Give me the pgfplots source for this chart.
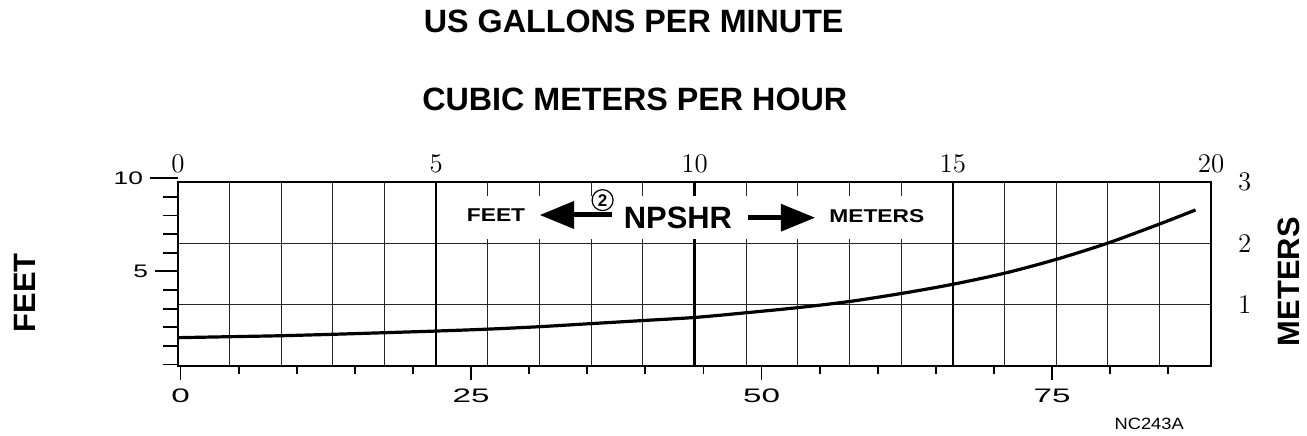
\documentclass[border=0pt]{standalone}
\usepackage{fontspec}
\newfontfamily\arial{Liberation Sans}
\newfontfamily\widefont[FakeStretch=1.7]{Liberation Sans}
\newfontfamily\leftfont[FakeStretch=1.45]{Liberation Sans}
\newfontfamily\labelfont[FakeStretch=1.23]{Liberation Sans}
\newfontfamily\codefont[FakeStretch=1.12]{Liberation Sans}
\usepackage{pgfplots}
\pgfplotsset{compat=1.18}

\newcommand\thinlabel{\rmfamily\fontsize{13.5}{13.5}\selectfont}

% common frame: 1 px of the reference = 0.5bp
\pgfplotsset{
  chart/.style={at={(89bp,35bp)}, anchor=south west, scale only axis,
    width=516.5bp, height=92.15bp, xmin=0, xmax=20, ymin=0, ymax=3},
}
\tikzset{bigbold/.style={font=\arial\bfseries\fontsize{16.2}{16.2}\selectfont}}

\begin{document}
\begin{tikzpicture}
\useasboundingbox (0,0) rectangle (653.5bp,218bp);

% thin grid, every 1 m3/h and every metre
\begin{axis}[chart, xtick={1,...,19}, ytick={1,2}, grid=major,
  major grid style={black!85, line width=0.5bp},
  xticklabels={}, yticklabels={}, major tick length=0pt,
  axis line style={draw=none}]
\end{axis}

% heavy grid at 5, 10, 15 m3/h, and the white strip for the label
\begin{axis}[chart, xtick={5,10,15}, ytick=\empty, xmajorgrids,
  major grid style={black, line width=1.2bp},
  xticklabels={}, major tick length=0pt, axis line style={draw=none}]
\fill[white] (axis cs:5.12,2.07) rectangle (axis cs:14.85,2.76);
\end{axis}

% main axis: cubic metres per hour (top) vs metres (right)
\begin{axis}[chart,
  xtick={0,5,10,15,20}, xticklabel pos=upper,
  ytick={1,2,3}, yticklabel pos=right,
  major tick length=0pt, axis line style={line width=1bp},
  /pgf/number format/assume math mode=true,
  xticklabel style={font=\thinlabel, yshift=1bp},
  yticklabel style={font=\thinlabel, xshift=10bp}]
\addplot[black, line width=1.6bp, smooth] coordinates {
  (0,0.461) (1,0.477) (2,0.493) (3,0.516) (4,0.542) (5,0.569)
  (6,0.600) (7,0.640) (8,0.690) (9,0.740) (10,0.790) (11,0.867)
  (12,0.950) (13,1.050) (14,1.180) (15,1.330) (16,1.510) (17,1.735)
  (18,2.000) (19,2.310) (19.7,2.540)
};
% NPSHR legend
\node[font=\labelfont\bfseries\fontsize{9.3}{9.3}\selectfont] at (axis cs:6.157,2.458) {FEET};
\node[font=\arial\bfseries\fontsize{15.5}{15.5}\selectfont] at (axis cs:9.68,2.417) {NPSHR};
\node[font=\labelfont\bfseries\fontsize{9.3}{9.3}\selectfont] at (axis cs:13.53,2.434) {METERS};
\fill (axis cs:7.009,2.458) -- ([yshift=7bp]axis cs:7.667,2.458)
  -- ([yshift=-7bp]axis cs:7.667,2.458) -- cycle;
\draw[line width=2.5bp] (axis cs:7.6,2.458) -- (axis cs:8.397,2.458);
\draw[line width=2.5bp] (axis cs:11.04,2.414) -- (axis cs:11.75,2.414);
\fill (axis cs:12.33,2.414) -- ([yshift=7bp]axis cs:11.67,2.414)
  -- ([yshift=-7bp]axis cs:11.67,2.414) -- cycle;
\node[circle, draw, line width=0.6bp, inner sep=0pt, minimum size=10.5bp,
  font=\arial\bfseries\fontsize{8.5}{8.5}\selectfont] at (axis cs:8.22,2.70) {2};
\end{axis}

% feet scale on the left
\begin{axis}[at={(89bp,35.75bp)}, anchor=south west, scale only axis,
  width=516.5bp, height=93.1bp, xmin=0, xmax=20, ymin=0, ymax=10,
  axis line style={draw=none}, xtick=\empty,
  ytick={5}, minor ytick={0,1,2,3,4,6,7,8,9},
  extra y ticks={10}, extra y tick style={major tick length=14bp},
  tick pos=left, tick align=outside,
  major tick length=11.5bp, minor tick length=7.7bp,
  tick style={black, line width=0.9bp},
  /pgf/number format/assume math mode=true,
  yticklabel style={font=\leftfont\fontsize{9.1}{9.1}\selectfont}]
\end{axis}

% US gallons per minute at the bottom
\begin{axis}[chart, xmin=-0.215, xmax=88.68, ymin=0, ymax=1,
  axis line style={draw=none}, ytick=\empty,
  xtick={0,25,50,75}, minor xtick={5,10,15,20,30,35,40,45,55,60,65,70,80,85},
  tick pos=left, tick align=outside,
  major tick length=7bp, minor tick length=4bp,
  tick style={black, line width=0.9bp},
  /pgf/number format/assume math mode=true,
  xticklabel style={font=\widefont\fontsize{9.8}{9.8}\selectfont, yshift=-1bp}]
\end{axis}

\node[bigbold] at (316.85bp,207.5bp) {US GALLONS PER MINUTE};
\node[bigbold] at (317.4bp,168.5bp) {CUBIC METERS PER HOUR};
\node[rotate=90, font=\arial\bfseries\fontsize{15.5}{15.5}\selectfont] at (12.5bp,71.5bp) {FEET};
\node[rotate=90, font=\arial\bfseries\fontsize{15.5}{15.5}\selectfont] at (644.5bp,77.15bp) {METERS};
\node[font=\codefont\fontsize{8.2}{8.2}\selectfont] at (574.6bp,6.25bp) {NC243A};
\end{tikzpicture}
\end{document}
